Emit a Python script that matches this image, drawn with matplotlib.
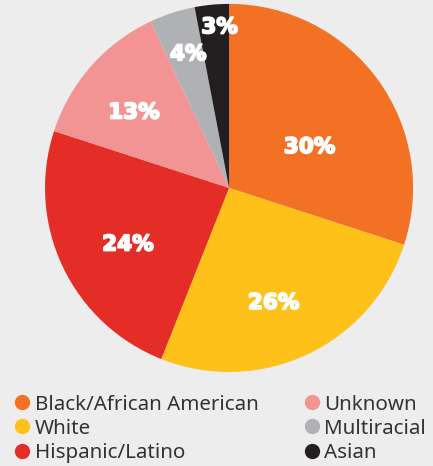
import matplotlib.pyplot as plt
import matplotlib.patheffects as pe
from matplotlib.lines import Line2D
import numpy as np

categories = ["Black/African American", "White", "Hispanic/Latino",
              "Unknown", "Multiracial", "Asian"]
shares = [30, 26, 24, 13, 4, 3]
colors = ["#F37125", "#FDC11A", "#E42D27", "#F29494", "#B0B1B4", "#231F20"]

# label placement tweaks (radius as fraction, angle nudge in degrees)
label_r = [0.49, 0.67, 0.63, 0.66, 0.76, 0.875]
label_da = [-9, -4, 4, 3, -1, -2]

bg = "#EDEDED"
fig = plt.figure(figsize=(4.33, 4.66), dpi=100, facecolor=bg)
ax = fig.add_axes([0.104, 0.2017, 0.85, 0.79])
ax.set_facecolor(bg)

wedges, _ = ax.pie(shares, colors=colors, startangle=90, counterclock=False,
                   radius=1.0)
ax.set_xlim(-1, 1)
ax.set_ylim(-1, 1)
ax.set_aspect("equal")

for w, val, r, da in zip(wedges, shares, label_r, label_da):
    mid = np.deg2rad((w.theta1 + w.theta2) / 2 + da)
    ax.text(r * np.cos(mid), r * np.sin(mid), f"{val}%", ha="center",
            va="center", color="white", fontsize=15.5, fontweight="bold",
            family="DejaVu Sans",
            path_effects=[pe.withStroke(linewidth=1.3, foreground="white")])

handles = [Line2D([], [], marker="o", linestyle="", markersize=10,
                  markerfacecolor=c, markeredgecolor=c) for c in colors]
leg = fig.legend(handles, categories, ncol=2, loc="upper left",
                 bbox_to_anchor=(0.004, 0.171), frameon=False,
                 prop={"family": "Noto Sans", "size": 14.8},
                 handletextpad=0.0, columnspacing=2.0, labelspacing=0.2,
                 handlelength=1.2, borderaxespad=0)
for t in leg.get_texts():
    t.set_color("#333333")

fig.savefig("out.png", dpi=100, facecolor=bg)
